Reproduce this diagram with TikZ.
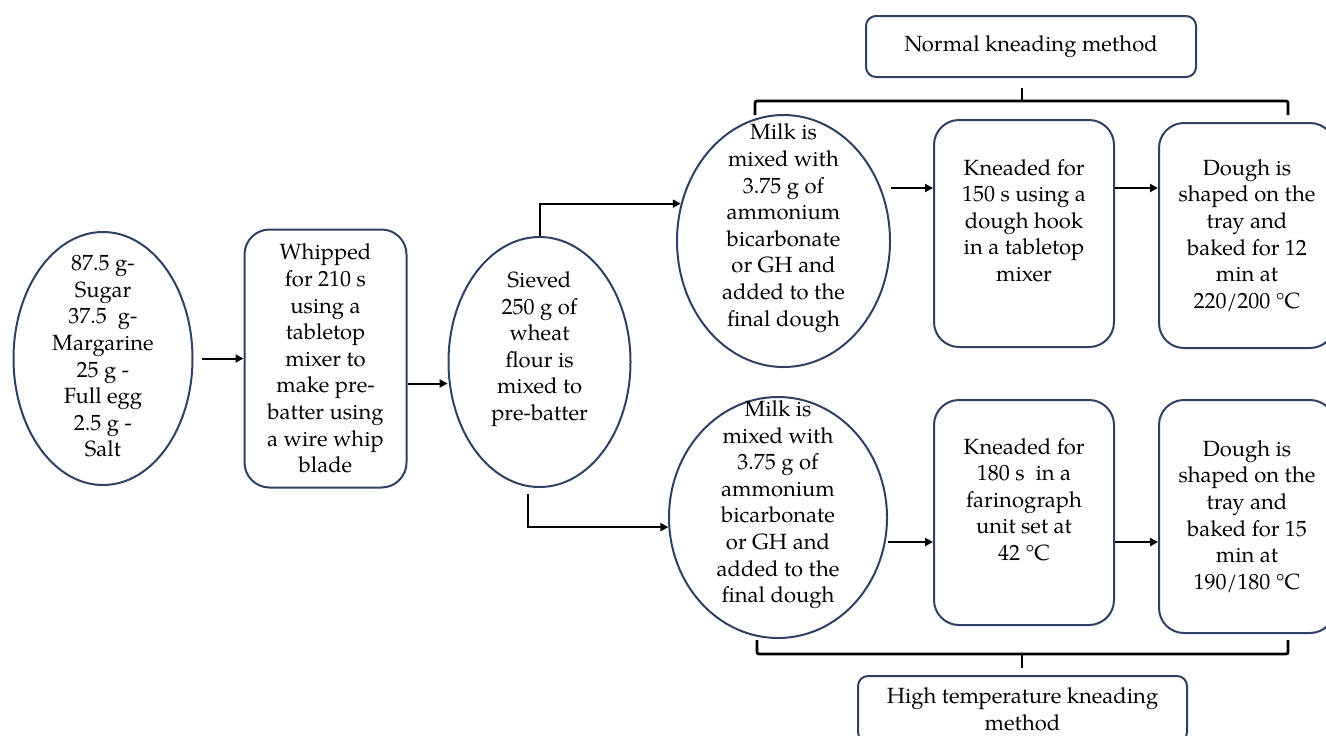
\documentclass[tikz,border=0pt]{standalone}
\usepackage{fontspec}
\setmainfont{TeX Gyre Pagella}
\usepackage{tikz}
\usetikzlibrary{shapes.geometric,arrows.meta,positioning}
\definecolor{navy}{HTML}{2F4163}
\newcommand{\ovaltext}[1]{\smash{\raisebox{-.25em}{\begin{tabular}{@{}c@{}}#1\end{tabular}}}}

\begin{document}
\begin{tikzpicture}[->, >={Triangle[length=4pt,width=4pt]}, x=0.5pt, y=-0.5pt, line width=1pt]
    \tikzstyle{every node}=[font=\fontsize{11pt}{13.3pt}\selectfont, text=black]
    \tikzstyle{oval}=[ellipse, draw=navy, line width=1pt, inner sep=0pt]
    \tikzstyle{stepbox}=[rectangle, rounded corners=12.5pt, draw=navy, line width=1pt, align=center, inner sep=2pt]
    \tikzstyle{headbox}=[stepbox, rounded corners=5pt]
    \tikzstyle{bracket}=[-, line width=1.4pt, rounded corners=1pt]

    \useasboundingbox (0,0) rectangle (1326,735);

    % preparation of the batter
    \node[oval, minimum width=89.5pt, minimum height=126.5pt] (ingr) at (103,358.5)
        {\ovaltext{87.5 g-\\Sugar\\37.5~ g-\\Margarine\\25 g -\\Full egg\\2.5 g -\\Salt}}; %ingredients
    \node[stepbox, minimum width=81pt, minimum height=129pt, right=25pt of ingr] (whip)
        {Whipped\\for 210 s\\using a\\tabletop\\mixer to\\make pre-\\batter using\\a wire whip\\blade}; %whipping
    \node[oval, minimum width=91pt, minimum height=125pt, right=20pt of whip, yshift=-1.75pt] (sieve)
        {\ovaltext{Sieved\\250 g of\\wheat\\flour is\\mixed to\\pre-batter\\~}}; %flour

    % normal kneading
    \node[oval, minimum width=106.5pt, minimum height=126pt] (milkA) at (783.5,241)
        {\ovaltext{Milk is\\mixed with\\3.75 g of\\ammonium\\bicarbonate\\or GH and\\added to the\\final dough\\~}}; %milk
    \node[stepbox, minimum width=90pt, minimum height=113.5pt, right=21pt of milkA, yshift=3.75pt] (kneadA)
        {Kneaded for\\150 s using a\\dough hook\\in a tabletop\\mixer\\~}; %tabletop mixer
    \node[stepbox, minimum width=88pt, minimum height=112.5pt, right=21.5pt of kneadA, yshift=-1pt] (doughA)
        {Dough is\\shaped on the\\tray and\\baked for 12\\min at\\220/200~°C}; %baking

    % high temperature kneading
    \node[oval, minimum width=109pt, minimum height=120.5pt] (milkB) at (778,517.5)
        {\ovaltext{Milk is\\mixed with\\3.75 g of\\ammonium\\bicarbonate\\or GH and\\added to the\\final dough\\~}}; %milk
    \node[stepbox, minimum width=90pt, minimum height=112.5pt, right=22.5pt of milkB, yshift=2.5pt] (kneadB)
        {Kneaded for\\180 s~ in a\\farinograph\\unit set at\\42~°C\\~}; %farinograph
    \node[stepbox, minimum width=88pt, minimum height=116.5pt, right=21.5pt of kneadB, yshift=-2pt] (doughB)
        {Dough is\\shaped on the\\tray and\\baked for 15\\min at\\190/180~°C}; %baking

    % method titles
    \node[headbox, minimum width=165pt, minimum height=30.5pt] (normal) at (1031,46.5) {Normal kneading method};
    \node[headbox, minimum width=164.5pt, minimum height=33pt] (hightemp) at (1022.5,709) {High temperature kneading\\method};

    % arrows
    \draw ([xshift=4pt]ingr.east) -- (whip.west);
    \coordinate (wb) at ([yshift=-12.5pt]whip.east);
    \draw (wb) -- (wb -| sieve.west);
    \draw (sieve.north) |- (milkA.160);
    \draw ([xshift=-6pt,yshift=-3pt]sieve.south) |- (milkB.185);

    \coordinate (ka) at ([yshift=22.75pt]kneadA.west);
    \draw (milkA.east |- ka) -- (ka);
    \draw (kneadA.east |- ka) -- (doughA.west |- ka);

    \coordinate (kb) at ([yshift=-14.75pt]kneadB.west);
    \draw (milkB.east |- kb) -- (kb);
    \draw (kneadB.east |- kb) -- (doughB.west |- kb);

    % brackets
    \draw[bracket] (755,115) -- (755,101) -- (1288,101) -- (1288,115);
    \draw[bracket] (1022,101) -- (1022,88);
    \draw[bracket] (757,640) -- (757,654) -- (1288,654) -- (1288,640);
    \draw[bracket] (1022,654) -- (1022,668);
\end{tikzpicture}
\end{document}
